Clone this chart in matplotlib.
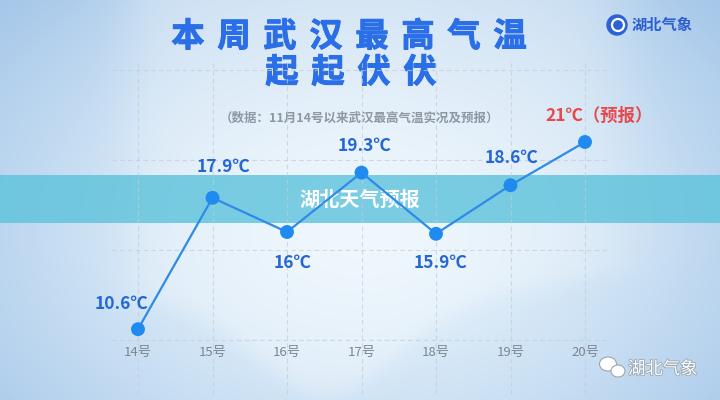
import numpy as np
import matplotlib
matplotlib.use("Agg")
import matplotlib.pyplot as plt
import matplotlib.patheffects as pe
from matplotlib.patches import Circle, Ellipse, Rectangle

plt.rcParams['font.family'] = ['Noto Sans CJK SC', 'DejaVu Sans']

# data
days = ["14号", "15号", "16号", "17号", "18号", "19号", "20号"]
temps = [10.6, 17.9, 16.0, 19.3, 15.9, 18.6, 21.0]
temp_labels = ["10.6℃", "17.9℃", "16℃", "19.3℃", "15.9℃", "18.6℃", "21℃（预报）"]
grid_temps = [10, 15, 20, 25]

# label offsets in points (dx, dy)
offsets = [(-12, 18), (8, 22), (4, -22), (2, 19), (3, -21), (1, 20), (10, 19)]

W, H = 720, 400
fig = plt.figure(figsize=(7.2, 4), dpi=100)

# background
yy, xx = np.mgrid[0:H, 0:W]
d = np.sqrt(((xx - 360) / 430.0) ** 2 + ((yy - 230) / 300.0) ** 2)
t = np.clip(d, 0, 1.2) ** 1.4
center = np.array([234, 245, 252]) / 255.0
edge = np.array([176, 206, 236]) / 255.0
img = center[None, None, :] * (1 - t[..., None]) + edge[None, None, :] * t[..., None]
img = np.clip(img, 0, 1)
# lighter wave area
curve = 300 + 95 * np.exp(-((xx - 325) / 95.0) ** 2) - 25 * np.clip((xx - 450) / 150.0, 0, 1)
m = 1 / (1 + np.exp((yy - curve) / 6.0))
m *= 1 / (1 + np.exp(-(xx - 130) / 15.0)) * 1 / (1 + np.exp((xx - 620) / 20.0))
img = img * (1 - 0.3 * m[..., None]) + 0.3 * m[..., None]

bg = fig.add_axes([0, 0, 1, 1])
bg.imshow(img, extent=(0, W, H, 0), aspect='auto', zorder=0)
bg.set_xlim(0, W)
bg.set_ylim(H, 0)
bg.axis('off')

# main axes mapped so that categories and temps land where they should
ax = fig.add_axes([0, 0, 1, 1])
ax.patch.set_alpha(0)
step = 74.5
x0 = 138
ax.set_xlim(-x0 / step, (W - x0) / step)
ax.set_ylim(10 - 60 / 18.0, 10 + 340 / 18.0)
ax.axis('off')

xs = np.arange(len(days))
grid_kw = dict(color="#c3ccd8", lw=0.8, linestyle=(0, (4, 3)), alpha=0.7, zorder=1)
for g in grid_temps:
    ax.hlines(g, -0.35, len(days) - 0.7, **grid_kw)
for x in xs:
    ax.vlines(x, 7.0, 25.6, **grid_kw)

ax.plot(xs, temps, color="#2f8ae8", lw=1.6, zorder=3)
ax.scatter(xs, temps, s=100, color="#1f8af0", zorder=4, edgecolors='none')

for i, (x, v, lab) in enumerate(zip(xs, temps, temp_labels)):
    c = "#e9494b" if i == len(xs) - 1 else "#2467d4"
    ax.annotate(lab, (x, v), xytext=offsets[i], textcoords='offset points',
                ha='center', va='center', fontsize=12.5, fontweight='bold', color=c, zorder=5)

for x, lab in zip(xs, days):
    ax.text(x, 10 - 12 / 18.0, lab, ha='center', va='center', fontsize=9.5, color="#7c8692", zorder=5)

# title
heavy = [pe.withStroke(linewidth=0.7, foreground="#2a6ee8")]
line1 = "本周武汉最高气温"
for k, ch in enumerate(line1):
    bg.text(188 + k * 46, 37, ch, ha='center', va='center', fontsize=24,
            fontweight='bold', color="#2a6ee8", zorder=6, path_effects=heavy)
line2 = "起起伏伏"
for k, ch in enumerate(line2):
    bg.text(282 + k * 46, 73, ch, ha='center', va='center', fontsize=24,
            fontweight='bold', color="#2a6ee8", zorder=6, path_effects=heavy)
bg.text(360, 118, "（数据：11月14号以来武汉最高气温实况及预报）", ha='center', va='center',
        fontsize=9, fontweight='bold', color="#8e98a5", zorder=6)

# logo top right
bg.add_patch(Circle((617, 25), 10, color="#2c63d4", zorder=6))
bg.add_patch(Circle((618, 25), 6, facecolor='none', edgecolor='white', lw=1.6, zorder=7))
bg.text(632, 25, "湖北气象", ha='left', va='center', fontsize=11, fontweight='bold',
        color="#2c5fcf", style='italic', zorder=6)

# band overlay
bg.add_patch(Rectangle((0, 175), W, 48, color="#5cc2db", alpha=0.8, zorder=8, lw=0))
bg.text(360, 199, "湖北天气预报", ha='center', va='center', fontsize=14.5, fontweight='bold',
        color="white", zorder=9)

# watermark bottom right
bg.add_patch(Ellipse((608, 364), 17, 14, facecolor='white', edgecolor='#9aa6b2', lw=0.8, zorder=6))
bg.add_patch(Ellipse((618, 371), 14, 12, facecolor='white', edgecolor='#9aa6b2', lw=0.8, zorder=7))
bg.text(628, 369, "湖北气象", ha='left', va='center', fontsize=12.5, color="white", zorder=6,
        path_effects=[pe.withStroke(linewidth=1.2, foreground="#9aa6b2")])

fig.savefig("out.png", dpi=100)
